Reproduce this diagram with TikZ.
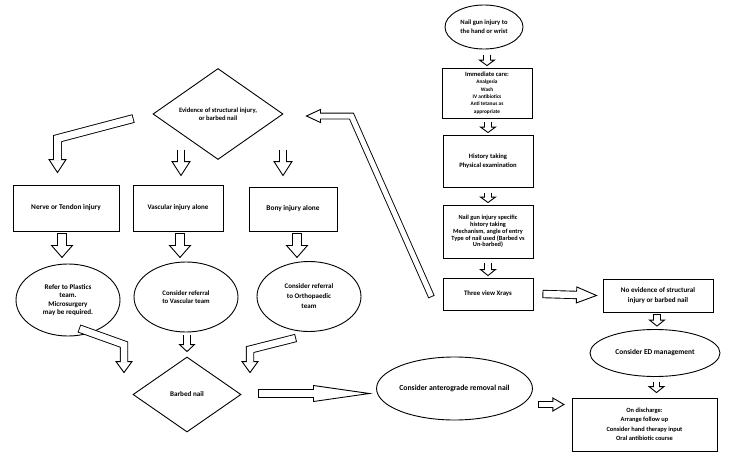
\documentclass[tikz,border=0pt]{standalone}
\usepackage{fontspec}
\setmainfont{Carlito}
\usetikzlibrary{calc,shapes.geometric}
% block arrow: #1 shaft path (ending at head base), #2 base, #3 tip, #4 inner shaft width, #5 head half width
\newcommand\blockarrow[5]{%
  \draw[line width=#4pt+1.8pt, line join=miter, line cap=butt] #1;
  \draw[fill=white, line width=0.9pt, line join=miter] ($#2!#5!90:#3$) -- #3 -- ($#2!#5!-90:#3$) -- cycle;
  \draw[white, line width=#4pt, line join=miter, line cap=butt, shorten <=0.9pt] #1 -- ($#2!1pt!#3$);
}
% straight block arrow: #1 start, #2 tip, #3 head length, #4 inner shaft width, #5 head half width
\newcommand\sarrow[5]{%
  \path #2 coordinate (sat) ($#2!#3!#1$) coordinate (sab);
  \blockarrow{#1 -- (sab)}{(sab)}{(sat)}{#4}{#5}%
}
\begin{document}
\begin{tikzpicture}[x=1pt,y=-1pt,
  base/.style={draw, line width=0.9pt, align=center, inner sep=0pt, text=black, fill=white},
  box/.style={base, rectangle},
  oval/.style={base, ellipse},
  dia/.style={base, diamond},
]
\useasboundingbox[fill=white] (0,0) rectangle (750,471);

% right column
\node[oval, minimum width=78pt, minimum height=44pt, font=\bfseries\fontsize{6.6}{9}\selectfont] (n1) at (484,27) {Nail gun injury to\\the hand or wrist};
\node[box, minimum width=90pt, minimum height=50pt, font=\bfseries\fontsize{5.3}{7.3}\selectfont] (n2) at (487,93) {{\fontsize{6.5}{7.3}\selectfont Immediate care:}\\Analgesia\\Wash\\IV antibiotics\\Anti tetanus as\\appropriate};
\node[box, minimum width=90pt, minimum height=52pt, font=\bfseries\fontsize{6.6}{9}\selectfont] (n3) at (488,161) {History taking\\Physical examination};
\node[box, minimum width=90pt, minimum height=53pt, font=\bfseries\fontsize{6.3}{6.8}\selectfont] (n4) at (488,231.5) {Nail gun injury specific\\history taking\\Mechanism, angle of entry\\Type of nail used (Barbed vs\\Un-barbed)};
\node[box, minimum width=90pt, minimum height=32pt, font=\bfseries\fontsize{6.8}{8}\selectfont] (n5) at (488,294) {Three view Xrays};
\node[box, minimum width=110pt, minimum height=33pt, font=\bfseries\fontsize{7.1}{10}\selectfont] (n6) at (658,295.5) {No evidence of structural\\injury or barbed nail};
\node[oval, minimum width=130pt, minimum height=47pt, font=\bfseries\fontsize{7.4}{9}\selectfont] (n7) at (655,353) {Consider ED management};
\node[box, minimum width=145pt, minimum height=53pt, font=\bfseries\fontsize{6.4}{9.5}\selectfont] (n8) at (644.5,424.5) {On discharge:\\Arrange follow up\\Consider hand therapy input\\Oral antibiotic course};
\node[oval, minimum width=135pt, minimum height=63pt, font=\bfseries\fontsize{7.7}{9}\selectfont] (n9) at (454.5,388.5) {Consider anterograde removal nail};

% left part
\node[dia, minimum width=108pt, minimum height=75pt, font=\bfseries\fontsize{7.1}{8}\selectfont] (n10) at (187,394.5) {Barbed nail};
\node[dia, minimum width=130pt, minimum height=70pt, font=\bfseries\fontsize{6.6}{8.3}\selectfont] (n11) at (218,114) {Evidence of structural injury,\\or barbed nail};
\node[box, minimum width=106pt, minimum height=46pt, font=\bfseries\fontsize{7.3}{9}\selectfont] (n12) at (66,208) {Nerve or Tendon injury};
\node[box, minimum width=90pt, minimum height=46pt, font=\bfseries\fontsize{7}{9}\selectfont] (n13) at (178,208) {Vascular injury alone};
\node[box, minimum width=88pt, minimum height=44pt, font=\bfseries\fontsize{7.3}{9}\selectfont] (n14) at (293,209) {Bony injury alone};
\node[oval, minimum width=104pt, minimum height=72pt, font=\bfseries\fontsize{7.1}{8.3}\selectfont] (n15) at (68,300) {Refer to Plastics\\team.\\Microsurgery\\may be required.};
\node[oval, minimum width=104pt, minimum height=70pt, font=\bfseries\fontsize{6.8}{8.6}\selectfont] (n16) at (186,297) {Consider referral\\to Vascular team};
\node[oval, minimum width=104pt, minimum height=70pt, font=\bfseries\fontsize{7}{10}\selectfont] (n17) at (309,296.5) {Consider referral\\to Orthopaedic\\team};

% right column arrows
\sarrow{($(n2.north)+(0,-13)$)}{($(n2.north)+(0,-2)$)}{5.5pt}{5.5}{7.5pt}
\sarrow{($(n3.north)+(0,-13)$)}{($(n3.north)+(0,-2)$)}{5.5pt}{5.5}{7.5pt}
\sarrow{($(n4.north)+(0,-12)$)}{($(n4.north)+(0,-2)$)}{5.5pt}{5.5}{7.5pt}
\sarrow{($(n5.north)+(0,-15)$)}{($(n5.north)+(0,-2)$)}{6pt}{5.5}{7.5pt}
\sarrow{($(n5.east)+(9,0)$)}{($(n6.west)+(-6,0)$)}{20pt}{6.5}{8pt}
\sarrow{($(n7.north)+(2,-15)$)}{($(n7.north)+(2,-3)$)}{6pt}{5.5}{7.5pt}
\sarrow{($(n8.north)+(12,-16)$)}{($(n8.north)+(12,-5)$)}{6pt}{5.5}{7.5pt}
\sarrow{($(n9.east)+(5,16)$)}{($(n9.east)+(31,16)$)}{11pt}{5.5}{6.5pt}
\sarrow{($(n10.east)+(17,-1)$)}{($(n10.east)+(128,-1)$)}{56pt}{6.5}{8pt}

% from evidence diamond
\sarrow{($(n13.north)+(3,-35)$)}{($(n13.north)+(3,-9)$)}{14pt}{6.5}{9pt}
\sarrow{($(n14.north)+(-10,-37)$)}{($(n14.north)+(-10,-11)$)}{14pt}{6.5}{9pt}
\blockarrow{($(n11.west)+(-19,4.5)$) -- ($(n12.north)+(-8.5,-46)$) -- ($(n12.north)+(-8.5,-25)$)}{($(n12.north)+(-8.5,-25)$)}{($(n12.north)+(-8.5,-12)$)}{7}{8.5pt}

% boxes to ovals
\sarrow{($(n12.south)+(-4,2)$)}{($(n12.south)+(-4,26)$)}{12pt}{8}{10.5pt}
\sarrow{($(n13.south)+(2,2)$)}{($(n13.south)+(2,26)$)}{12pt}{8}{10.5pt}
\sarrow{($(n14.south)+(4,2)$)}{($(n14.south)+(4,26)$)}{12pt}{8}{10.5pt}

% ovals to barbed nail
\blockarrow{($(n15.south)+(11,-8)$) -- ($(n10.north)+(-63,-12)$) -- ($(n10.north)+(-63,5)$)}{($(n10.north)+(-63,5)$)}{($(n10.north)+(-63,16)$)}{6.5}{8pt}
\sarrow{($(n10.north)+(0,-22)$)}{($(n10.north)+(0,-5)$)}{7pt}{6}{7.5pt}
\blockarrow{($(n17.south)+(-13,6)$) -- ($(n10.north)+(63,-7)$) -- ($(n10.north)+(63,5)$)}{($(n10.north)+(63,5)$)}{($(n10.north)+(63,16)$)}{6.5}{8pt}

% xrays back to evidence diamond
\blockarrow{($(n5.west)+(-11,3)$) -- ($(n11.east)+(68,2)$) -- ($(n11.east)+(37,2)$)}{($(n11.east)+(37,2)$)}{($(n11.east)+(23,2)$)}{5}{6.5pt}
\end{tikzpicture}
\end{document}
